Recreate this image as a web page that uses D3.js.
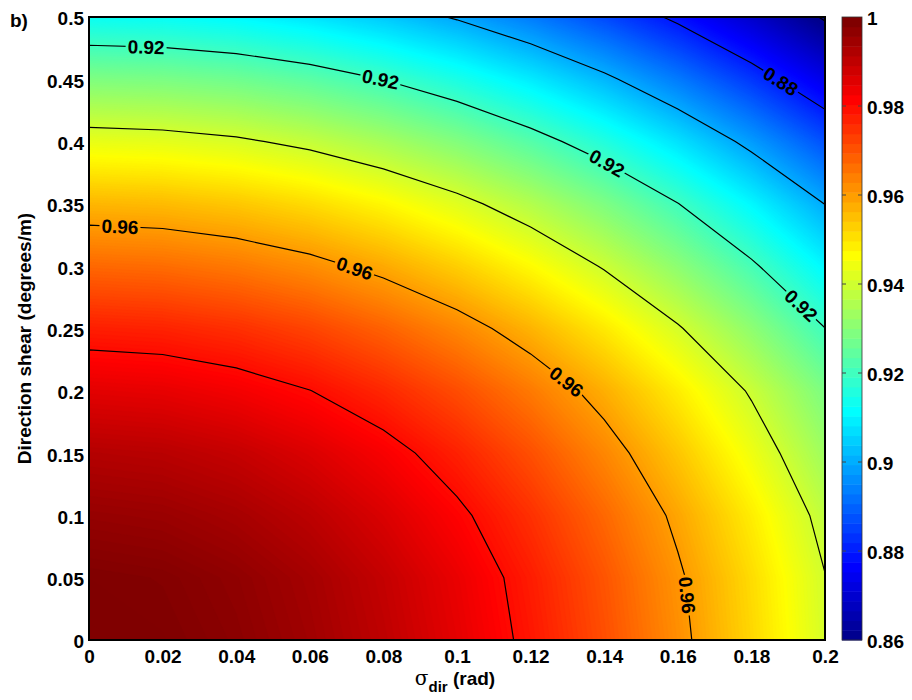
<!DOCTYPE html>
<html>
<head>
<meta charset="utf-8">
<script src="https://cdn.jsdelivr.net/npm/d3@7"></script>
<style>
  body { margin: 0; background: #fff; }
  svg text { font-family: "Liberation Sans", Arial, sans-serif; font-weight: bold; fill: #000; }
</style>
</head>
<body>
<svg id="chart" width="912" height="700"></svg>
<script>
// grid: columns = sigma_dir, rows = direction shear
const sigmaDir = [0, 0.02, 0.04, 0.06, 0.08, 0.1, 0.12, 0.14, 0.16, 0.18, 0.2];
const dirShear = [0, 0.05, 0.1, 0.15, 0.2, 0.25, 0.3, 0.35, 0.4, 0.45, 0.5];
const skill = [
    [0.9997, 0.9991, 0.9973, 0.9944, 0.9903, 0.9850, 0.9785, 0.9708, 0.9619, 0.9519, 0.9407],
    [0.9990, 0.9984, 0.9966, 0.9937, 0.9895, 0.9842, 0.9776, 0.9699, 0.9610, 0.9512, 0.9402],
    [0.9958, 0.9952, 0.9935, 0.9906, 0.9865, 0.9813, 0.9749, 0.9673, 0.9586, 0.9488, 0.9377],
    [0.9916, 0.9910, 0.9893, 0.9863, 0.9823, 0.9770, 0.9706, 0.9630, 0.9542, 0.9443, 0.9332],
    [0.9852, 0.9846, 0.9829, 0.9801, 0.9761, 0.9710, 0.9648, 0.9574, 0.9488, 0.9392, 0.9284],
    [0.9773, 0.9767, 0.9750, 0.9722, 0.9681, 0.9630, 0.9567, 0.9493, 0.9407, 0.9310, 0.9201],
    [0.9672, 0.9666, 0.9649, 0.9621, 0.9581, 0.9530, 0.9468, 0.9394, 0.9308, 0.9212, 0.9104],
    [0.9563, 0.9557, 0.9540, 0.9512, 0.9473, 0.9422, 0.9360, 0.9287, 0.9202, 0.9106, 0.8999],
    [0.9433, 0.9427, 0.9411, 0.9383, 0.9343, 0.9293, 0.9231, 0.9159, 0.9075, 0.8979, 0.8873],
    [0.9288, 0.9282, 0.9266, 0.9238, 0.9199, 0.9149, 0.9088, 0.9016, 0.8932, 0.8838, 0.8732],
    [0.9127, 0.9122, 0.9106, 0.9079, 0.9041, 0.8993, 0.8934, 0.8864, 0.8784, 0.8693, 0.8591]
];
const lineLevels = [0.86, 0.88, 0.9, 0.92, 0.94, 0.96, 0.98];
const xTicks = [0, 0.02, 0.04, 0.06, 0.08, 0.1, 0.12, 0.14, 0.16, 0.18, 0.2];
const yTicks = [0, 0.05, 0.1, 0.15, 0.2, 0.25, 0.3, 0.35, 0.4, 0.45, 0.5];
const barTicks = [0.86, 0.88, 0.9, 0.92, 0.94, 0.96, 0.98, 1];
const colorRange = [0.86, 1];
// contour labels: [level, sigma_dir, shear] near where they sit
const labelSpots = [
    [0.92, 0.0155, 0.474], [0.92, 0.079, 0.447], [0.92, 0.140, 0.379], [0.92, 0.1927, 0.266],
    [0.88, 0.1872, 0.445],
    [0.96, 0.0084, 0.331], [0.96, 0.0718, 0.295], [0.96, 0.128, 0.2006], [0.96, 0.1625, 0.036]
];

const svg = d3.select("#chart");
const plot = {left: 89, right: 825, top: 17, bottom: 640};
const bar = {left: 842, right: 862};

var x = d3.scaleLinear().domain([0, 0.2]).range([plot.left, plot.right]);
var y = d3.scaleLinear().domain([0, 0.5]).range([plot.bottom, plot.top]);
var cy = d3.scaleLinear().domain(colorRange).range([plot.bottom, plot.top]);

// matlab jet(m)
function jet(m) {
    const n = Math.ceil(m / 4);
    const u = [];
    for (let i = 1; i <= n; i++) u.push(i / n);
    for (let i = 1; i < n; i++) u.push(1);
    for (let i = n; i >= 1; i--) u.push(i / n);
    const off = Math.ceil(n / 2) - (m % 4 === 1 ? 1 : 0);
    const cmap = d3.range(m).map(() => [0, 0, 0]);
    u.forEach((v, k) => {
        const g = off + k + 1, r = g + n, b = g - n;
        if (g >= 1 && g <= m) cmap[g - 1][1] = v;
        if (r >= 1 && r <= m) cmap[r - 1][0] = v;
        if (b >= 1 && b <= m) cmap[b - 1][2] = v;
    });
    return cmap.map(c => d3.rgb(c[0] * 255, c[1] * 255, c[2] * 255).formatHex());
}
const jet64 = jet(64);
const step = (colorRange[1] - colorRange[0]) / jet64.length;
// smooth version of the colormap for the shaded field
const shade = d3.scaleLinear()
    .domain(jet64.map((c, i) => colorRange[0] + (i + 0.5) * step))
    .range(jet64)
    .clamp(true);
const fineStep = 0.0005;
const bandLows = d3.range(0, Math.round((colorRange[1] - colorRange[0]) / fineStep))
    .map(i => colorRange[0] + i * fineStep);

// grid index space -> data space (d3.contours puts value i at i + 0.5)
const nx = sigmaDir.length, ny = dirShear.length;
const gx = d3.scaleLinear().domain([0.5, nx - 0.5]).range([sigmaDir[0], sigmaDir[nx - 1]]);
const gy = d3.scaleLinear().domain([0.5, ny - 0.5]).range([dirShear[0], dirShear[ny - 1]]);
const flat = skill.flat();
const toPx = d3.geoTransform({
    point: function(cx, cyy) { this.stream.point(x(gx(cx)), y(gy(cyy))); }
});
const path = d3.geoPath(toPx);

const defs = svg.append("defs");
defs.append("clipPath").attr("id", "plotClip")
    .append("rect")
    .attr("x", plot.left).attr("y", plot.top)
    .attr("width", plot.right - plot.left).attr("height", plot.bottom - plot.top);

const field = svg.append("g").attr("clip-path", "url(#plotClip)");
field.append("rect")
    .attr("x", plot.left).attr("y", plot.top)
    .attr("width", plot.right - plot.left).attr("height", plot.bottom - plot.top)
    .attr("fill", jet64[0]);

const bands = d3.contours().size([nx, ny]).thresholds(bandLows)(flat);
field.selectAll("path.band")
    .data(bands)
    .enter()
    .append("path")
    .attr("class", "band")
    .attr("d", path)
    .attr("fill", d => shade(d.value + fineStep / 2))
    .attr("stroke", d => shade(d.value + fineStep / 2))
    .attr("stroke-width", 0.3);

// contour lines
const lines = d3.contours().size([nx, ny]).thresholds(lineLevels)(flat);

// labels: snap each to its line and take the local direction
function pixelRings(level) {
    const c = lines.find(d => Math.abs(d.value - level) < 1e-9);
    const rings = [];
    c.coordinates.forEach(poly => poly.forEach(ring => {
        rings.push(ring.map(p => [x(gx(p[0])), y(gy(p[1]))]));
    }));
    return rings;
}
const labels = labelSpots.map(s => {
    const px = x(s[1]), py = y(s[2]);
    let best = null;
    pixelRings(s[0]).forEach(ring => {
        for (let i = 0; i < ring.length - 1; i++) {
            const a = ring[i], b = ring[i + 1];
            // skip pieces outside the plot
            if ((a[0] > plot.right + 0.5 && b[0] > plot.right + 0.5) || (a[1] < plot.top - 0.5 && b[1] < plot.top - 0.5)) continue;
            const dx = b[0] - a[0], dy = b[1] - a[1];
            const len2 = dx * dx + dy * dy;
            if (len2 === 0) continue;
            let t = ((px - a[0]) * dx + (py - a[1]) * dy) / len2;
            t = Math.max(0, Math.min(1, t));
            const qx = a[0] + t * dx, qy = a[1] + t * dy;
            const dist = Math.hypot(px - qx, py - qy);
            if (!best || dist < best.dist) best = {dist: dist, x: qx, y: qy, ang: Math.atan2(dy, dx) * 180 / Math.PI};
        }
    });
    let ang = best.ang;
    if (ang > 90) ang -= 180;
    if (ang <= -90) ang += 180;
    return {text: d3.format("~g")(s[0]), x: best.x, y: best.y, ang: ang};
});

const labelG = svg.append("g").attr("clip-path", "url(#plotClip)");
const labelText = labelG.selectAll("text")
    .data(labels)
    .enter()
    .append("text")
    .attr("transform", d => "translate(" + d.x + "," + d.y + ")rotate(" + d.ang + ")")
    .attr("text-anchor", "middle")
    .attr("dy", "0.36em")
    .style("font-size", "19px")
    .text(d => d.text);

// gaps in the lines where labels sit
const mask = defs.append("mask").attr("id", "gapMask")
    .attr("maskUnits", "userSpaceOnUse")
    .attr("x", 0).attr("y", 0).attr("width", 912).attr("height", 700);
mask.append("rect").attr("x", 0).attr("y", 0).attr("width", 912).attr("height", 700).attr("fill", "#fff");
labelText.each(function(d) {
    const w = this.getComputedTextLength() + 4;
    mask.append("rect")
        .attr("x", -w / 2).attr("y", -8)
        .attr("width", w).attr("height", 16)
        .attr("fill", "#000")
        .attr("transform", "translate(" + d.x + "," + d.y + ")rotate(" + d.ang + ")");
});

field.append("g")
    .attr("mask", "url(#gapMask)")
    .selectAll("path")
    .data(lines)
    .enter()
    .append("path")
    .attr("d", path)
    .attr("fill", "none")
    .attr("stroke", "#000")
    .attr("stroke-width", 1.2);

// frame
svg.append("rect")
    .attr("x", plot.left).attr("y", plot.top)
    .attr("width", plot.right - plot.left).attr("height", plot.bottom - plot.top)
    .attr("fill", "none").attr("stroke", "#000").attr("stroke-width", 2);

// axes
const fmt = d3.format("~g");
const xAxis = svg.append("g")
    .attr("transform", "translate(0," + plot.bottom + ")")
    .call(d3.axisBottom(x).tickValues(xTicks).tickFormat(fmt).tickSize(0).tickPadding(10));
const yAxis = svg.append("g")
    .attr("transform", "translate(" + plot.left + ",0)")
    .call(d3.axisLeft(y).tickValues(yTicks).tickFormat(fmt).tickSize(0).tickPadding(5));
[xAxis, yAxis].forEach(g => {
    g.select(".domain").remove();
    g.selectAll("text").style("font-size", "19px").attr("font-family", null);
});
yAxis.selectAll("text").attr("dy", "0.42em");

svg.append("text")
    .attr("transform", "translate(31," + ((plot.top + plot.bottom) / 2 + 10) + ")rotate(-90)")
    .attr("text-anchor", "middle")
    .style("font-size", "19px")
    .text("Direction shear (degrees/m)");

const xl = svg.append("text")
    .attr("x", (plot.left + plot.right) / 2 - 2)
    .attr("y", 685)
    .attr("text-anchor", "middle")
    .style("font-size", "19px");
xl.append("tspan").text("σ").style("font-family", "'DejaVu Serif', serif").style("font-weight", "normal").style("font-size", "20px");
xl.append("tspan").text("dir").attr("dy", 7).style("font-size", "15px");
xl.append("tspan").text(" (rad)").attr("dy", -7);

svg.append("text")
    .attr("x", 10).attr("y", 27)
    .style("font-size", "19px")
    .text("b)");

// colorbar
svg.append("g").selectAll("rect")
    .data(jet64)
    .enter()
    .append("rect")
    .attr("x", bar.left)
    .attr("width", bar.right - bar.left)
    .attr("y", (d, i) => cy(colorRange[0] + (i + 1) * step))
    .attr("height", (d, i) => cy(colorRange[0] + i * step) - cy(colorRange[0] + (i + 1) * step) + 0.5)
    .attr("fill", d => d);
svg.append("rect")
    .attr("x", bar.left).attr("y", plot.top)
    .attr("width", bar.right - bar.left).attr("height", plot.bottom - plot.top)
    .attr("fill", "none").attr("stroke", "#333").attr("stroke-width", 0.8);
svg.append("g").selectAll("path")
    .data(barTicks.slice(1, -1))
    .enter()
    .append("path")
    .attr("d", d => "M" + bar.left + "," + cy(d) + "h4M" + bar.right + "," + cy(d) + "h-4")
    .attr("stroke", "#444")
    .attr("stroke-width", 1);
const cAxis = svg.append("g")
    .attr("transform", "translate(" + bar.right + ",0)")
    .call(d3.axisRight(cy).tickValues(barTicks).tickFormat(fmt).tickSize(0).tickPadding(5));
cAxis.select(".domain").remove();
cAxis.selectAll("text").style("font-size", "19px").attr("font-family", null).attr("dy", "0.42em");
</script>
</body>
</html>
